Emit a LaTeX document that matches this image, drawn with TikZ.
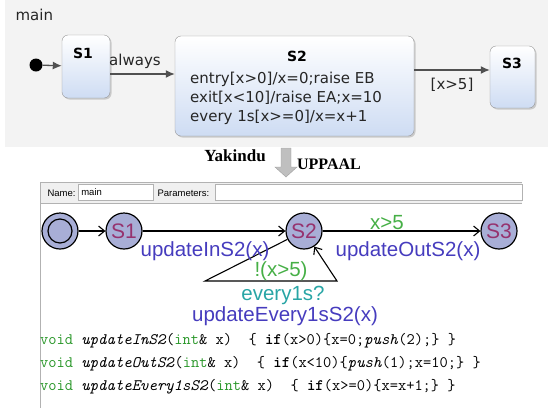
\documentclass[tikz,border=0pt]{standalone}
\usepackage{fontspec}
\usepackage{tikz}
\usepackage{xcolor}
\usetikzlibrary{arrows.meta,shadows,positioning}

\newfontfamily\ykfont{DejaVu Sans}
\newfontfamily\upfont{Liberation Sans}
\newfontfamily\hdfont{Liberation Serif}

\definecolor{ykbg}{RGB}{243,243,243}
\definecolor{ykblue}{RGB}{206,220,243}
\definecolor{ykline}{RGB}{150,150,150}
\definecolor{ykarrow}{RGB}{80,80,80}
\definecolor{upfill}{RGB}{168,174,214}
\definecolor{upname}{RGB}{150,50,110}
\definecolor{upupd}{RGB}{70,60,190}
\definecolor{upgrd}{RGB}{70,175,70}
\definecolor{upsync}{RGB}{40,165,165}
\definecolor{codegreen}{RGB}{40,150,40}
\definecolor{barbg}{RGB}{240,240,240}

\begin{document}
\begin{tikzpicture}[x=1pt, y=-1pt,
    ybox/.style={rectangle, draw=ykline, rounded corners=6pt, inner sep=0pt,
        top color=white, bottom color=ykblue,
        drop shadow={shadow xshift=1.5pt, shadow yshift=-1.5pt, opacity=0.35}},
    ytxt/.style={font=\ykfont\fontsize{15}{19}\selectfont, text=black!85},
    yname/.style={font=\ykfont\bfseries\fontsize{14}{17}\selectfont},
    yarrow/.style={-{Latex[length=9pt,width=8pt]}, draw=ykarrow, line width=1.3pt},
    ucirc/.style={circle, draw, line width=1.2pt, fill=upfill, minimum size=36pt,
        inner sep=0pt, font=\upfont\fontsize{21}{24}\selectfont, text=upname},
    ulbl/.style={font=\upfont\fontsize{20.5}{24}\selectfont},
    uarrow/.style={-{Straight Barb[length=6pt,width=10pt]}, line width=1.1pt},
    small/.style={font=\upfont\fontsize{9.5}{11}\selectfont},
    field/.style={rectangle, draw=gray!60, fill=white, minimum height=16pt, inner sep=0pt},
    code/.style={anchor=west, inner sep=0pt, font=\ttfamily\fontsize{16}{18}\selectfont},
]
\useasboundingbox (0,0) rectangle (548,408);

% Yakindu statechart
\fill[ykbg] (5,0) rectangle (548,147);
\node[ytxt, anchor=west] (mainlbl) at (12,15) {main};

\node[circle, fill=black, minimum size=13pt, inner sep=0pt] (init) at (36,65) {};
\node[ybox, minimum width=48pt, minimum height=63pt] (s1) at (86,66.5) {};
\node[ybox, minimum width=239pt, minimum height=100pt] (s2) at (294.5,86) {};
\node[ybox, minimum width=45pt, minimum height=62pt] (s3) at (512.5,77) {};

\node[yname] (s1n) at (83,53) {S1};
\node[yname] (s2n) at (297,56) {S2};
\node[yname] (s3n) at (512,63) {S3};
\node[ytxt, anchor=west, align=left, inner sep=0pt] (s2body) at (190,98)
    {entry[x>0]/x=0;raise EB\\exit[x<10]/raise EA;x=10\\every 1s[x>=0]/x=x+1};

\draw[yarrow] (init) -- (s1);
\draw[yarrow] ([yshift=-7.5pt]s1.east) -- ([yshift=12pt]s2.west);
\draw[yarrow] ([yshift=16pt]s2.east) -- ([yshift=7pt]s3.west);

\node[ytxt] (alw) at (135,61) {always};
\node[ytxt] (grd) at (452,85) {[x>5]};

% translation arrow
\filldraw[fill=gray!50, draw=gray!75] (281,148) -- (291,148) -- (291,167) -- (297,167)
    -- (286,177) -- (275,167) -- (281,167) -- cycle;
\node[font=\hdfont\bfseries\fontsize{17}{20}\selectfont] (ykl) at (235,156) {Yakindu};
\node[font=\hdfont\bfseries\fontsize{16}{20}\selectfont] (upl) at (329,164) {UPPAAL};

% UPPAAL editor bar
\fill[barbg] (40,182) rectangle (522,203);
\draw[gray!60] (522,182) -- (40,182) -- (40,408);
\draw[gray!60] (40,203) -- (522,203);
\node[small, anchor=west] (namel) at (44,193) {Name:};
\node[field, minimum width=75pt] (namef) at (115.5,192.5) {};
\node[small, anchor=west] (namev) at (namef.west) {main};
\node[small, anchor=west] (parl) at (154,193) {Parameters:};
\node[field, minimum width=307pt] (parf) at (368.5,192.5) {};

% UPPAAL automaton
\node[ucirc] (ui)  at (60,231)  {};
\draw[line width=1.2pt] (ui.center) circle[radius=12pt];
\node[ucirc] (us1) at (124,231) {S1};
\node[ucirc] (us2) at (304,231) {S2};
\node[ucirc] (us3) at (499,231) {S3};

\coordinate (lpA) at (205,281);
\coordinate (lpB) at (337,281);

\draw[uarrow] (ui) -- (us1);
\draw[uarrow] (us1) -- (us2);
\draw[uarrow] (us2) -- (us3);
\draw[uarrow] (us2) -- (lpA) -- (lpB) -- (us2);

\node[ulbl, text=upupd] (lin)  at (205,251) {updateInS2(x)};
\node[ulbl, text=upgrd] (lg)   at (387,223) {x>5};
\node[ulbl, text=upupd] (lout) at (408,251) {updateOutS2(x)};
\node[ulbl, text=upgrd] (lng)  at (281,271) {!(x>5)};
\node[ulbl, text=upsync] (lsy) at (283,295) {every1s?};
\node[ulbl, text=upupd] (lev)  at (285,316) {updateEvery1sS2(x)};

% generated functions
\node[code] (c1) at (40,341) {\textcolor{codegreen}{void} \textit{updateInS2}(\textcolor{codegreen}{int}\& x)~~\{ \textbf{if}(x>0)\{x=0;\textit{push}(2);\} \}};
\node[code] (c2) at (40,364) {\textcolor{codegreen}{void} \textit{updateOutS2}(\textcolor{codegreen}{int}\& x)~~\{ \textbf{if}(x<10)\{\textit{push}(1);x=10;\} \}};
\node[code] (c3) at (40,387) {\textcolor{codegreen}{void} \textit{updateEvery1sS2}(\textcolor{codegreen}{int}\& x)~~\{ \textbf{if}(x>=0)\{x=x+1;\} \}};

\end{tikzpicture}
\end{document}
